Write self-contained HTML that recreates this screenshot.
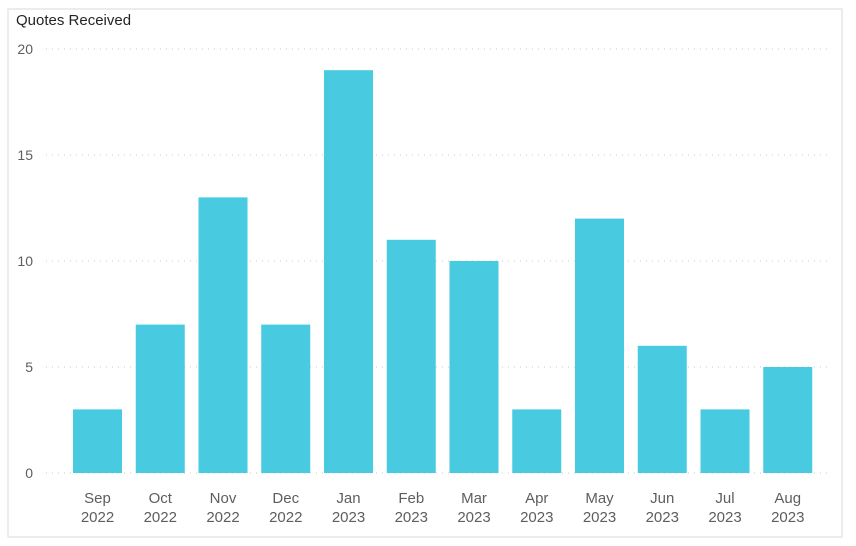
<!DOCTYPE html>
<html><head><meta charset="utf-8"><style>
html,body{margin:0;padding:0;background:#fff;width:856px;height:546px;overflow:hidden;font-family:"Liberation Sans",sans-serif}
</style></head><body>
<svg id="chart" width="856" height="546" xmlns="http://www.w3.org/2000/svg">
<rect x="8" y="9" width="834" height="528" fill="#fff" stroke="#e6e6e6" stroke-width="1.5"/>
<text x="16" y="25" font-size="15" fill="#252423">Quotes Received</text>
<g id="grid"></g><g id="bars"></g><g id="xlabels"></g>
</svg>
<script>
const months=["Sep","Oct","Nov","Dec","Jan","Feb","Mar","Apr","May","Jun","Jul","Aug"];
const years=["2022","2022","2022","2022","2023","2023","2023","2023","2023","2023","2023","2023"];
const values=[3,7,13,7,19,11,10,3,12,6,3,5];
const yTicks=[0,5,10,15,20];
const NS="http://www.w3.org/2000/svg";
const y0=473,yTop=49,yMax=20;
function y(v){return y0-(v/yMax)*(y0-yTop);}
const firstX=73,step=62.75,bw=49;
function x(i){return firstX+i*step;}
const grid=document.getElementById('grid');
yTicks.forEach(t=>{
  const l=document.createElementNS(NS,'line');
  l.setAttribute('x1',46);l.setAttribute('x2',832);
  l.setAttribute('y1',y(t));l.setAttribute('y2',y(t));
  l.setAttribute('stroke','#c8c8c8');l.setAttribute('stroke-dasharray','1 5');l.setAttribute('stroke-width','1');
  
  
  grid.appendChild(l);
  const tx=document.createElementNS(NS,'text');
  tx.setAttribute('x',33);tx.setAttribute('y',y(t)+5);tx.setAttribute('text-anchor','end');
  tx.setAttribute('font-size','14');tx.setAttribute('fill','#605e5c');
  tx.textContent=t;
  
  
  grid.appendChild(tx);
});
const bars=document.getElementById('bars'),xl=document.getElementById('xlabels');
values.forEach((v,i)=>{
  const r=document.createElementNS(NS,'rect');
  r.setAttribute('x',x(i));r.setAttribute('width',bw);
  r.setAttribute('y',y(v));r.setAttribute('height',y0-y(v));
  r.setAttribute('fill','#48cae0');
  
  
  bars.appendChild(r);
  const t=document.createElementNS(NS,'text');
  t.setAttribute('x',x(i)+bw/2);t.setAttribute('y',503);t.setAttribute('text-anchor','middle');
  t.setAttribute('font-size','15');t.setAttribute('fill','#605e5c');
  t.textContent=months[i];
  
  
  xl.appendChild(t);
  const t2=document.createElementNS(NS,'text');
  t2.setAttribute('x',x(i)+bw/2);t2.setAttribute('y',522);t2.setAttribute('text-anchor','middle');
  t2.setAttribute('font-size','15');t2.setAttribute('fill','#605e5c');
  t2.textContent=years[i];
  
  
  xl.appendChild(t2);
});
</script>
</body></html>
